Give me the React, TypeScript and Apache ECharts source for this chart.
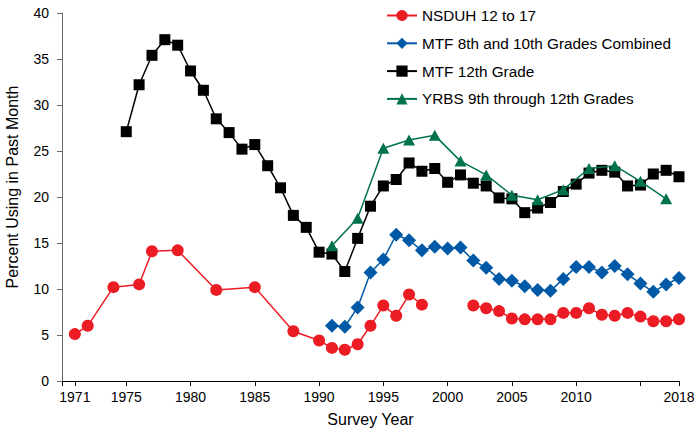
import React, { useEffect, useRef } from "react";
import * as echarts from "echarts";

const nsduhYears = [1971, 1972, 1974, 1976, 1977, 1979, 1982, 1985, 1988, 1990, 1991, 1992, 1993, 1994, 1995, 1996, 1997, 1998, 2000, 2002, 2003, 2004, 2005, 2006, 2007, 2008, 2009, 2010, 2011, 2012, 2013, 2014, 2015, 2016, 2017, 2018];
const nsduhValues = [5.1, 6.0, 10.2, 10.5, 14.1, 14.2, 9.9, 10.2, 5.4, 4.4, 3.6, 3.4, 4.0, 6.0, 8.2, 7.1, 9.4, 8.3, null, 8.2, 7.9, 7.6, 6.8, 6.7, 6.7, 6.7, 7.4, 7.4, 7.9, 7.2, 7.1, 7.4, 7.0, 6.5, 6.5, 6.7];

const mtf810Years = [1991, 1992, 1993, 1994, 1995, 1996, 1997, 1998, 1999, 2000, 2001, 2002, 2003, 2004, 2005, 2006, 2007, 2008, 2009, 2010, 2011, 2012, 2013, 2014, 2015, 2016, 2017, 2018];
const mtf810Values = [6.0, 5.9, 8.0, 11.8, 13.2, 15.9, 15.3, 14.2, 14.6, 14.4, 14.5, 13.1, 12.3, 11.1, 10.9, 10.3, 9.9, 9.8, 11.1, 12.4, 12.4, 11.8, 12.5, 11.6, 10.6, 9.7, 10.5, 11.2];

const mtf12Years = [1975, 1976, 1977, 1978, 1979, 1980, 1981, 1982, 1983, 1984, 1985, 1986, 1987, 1988, 1989, 1990, 1991, 1992, 1993, 1994, 1995, 1996, 1997, 1998, 1999, 2000, 2001, 2002, 2003, 2004, 2005, 2006, 2007, 2008, 2009, 2010, 2011, 2012, 2013, 2014, 2015, 2016, 2017, 2018];
const mtf12Values = [27.1, 32.2, 35.4, 37.1, 36.5, 33.7, 31.6, 28.5, 27.0, 25.2, 25.7, 23.4, 21.0, 18.0, 16.7, 14.0, 13.8, 11.9, 15.5, 19.0, 21.2, 21.9, 23.7, 22.8, 23.1, 21.6, 22.4, 21.5, 21.2, 19.9, 19.8, 18.3, 18.8, 19.4, 20.6, 21.4, 22.6, 22.9, 22.7, 21.2, 21.3, 22.5, 22.9, 22.2];

const yrbsYears = [1991, 1993, 1995, 1997, 1999, 2001, 2003, 2005, 2007, 2009, 2011, 2013, 2015, 2017];
const yrbsValues = [14.7, 17.7, 25.3, 26.2, 26.7, 23.9, 22.4, 20.2, 19.7, 20.8, 23.1, 23.4, 21.7, 19.8];

const seriesNames = ["NSDUH 12 to 17", "MTF 8th and 10th Grades Combined", "MTF 12th Grade", "YRBS 9th through 12th Grades"];
const xTickValues = [1970, 1971, 1975, 1980, 1985, 1990, 1995, 2000, 2005, 2010, 2015, 2018];
const xLabelValues = [1971, 1975, 1980, 1985, 1990, 1995, 2000, 2005, 2010, 2018];

const pairs = (xs: number[], ys: (number | null)[]) =>
  xs.map((x, i) => [x, ys[i] === null ? "-" : ys[i]]);

export default function App() {
  const ref = useRef<HTMLDivElement>(null);
  useEffect(() => {
    document.body.style.margin = "0";
    const chart = echarts.init(ref.current!, undefined, { renderer: "svg" });
    const font = "'Liberation Sans', Arial, sans-serif";
    chart.setOption({
      animation: false,
      textStyle: { fontFamily: font },
      grid: { left: 62, right: 20, top: 13, bottom: 56 },
      legend: {
        orient: "vertical",
        left: 381,
        top: 3,
        itemWidth: 30,
        itemHeight: 14,
        itemGap: 12.8,
        textStyle: { fontSize: 15.3, color: "#000", fontFamily: font },
        data: seriesNames,
      },
      xAxis: {
        type: "value",
        min: 1970,
        max: 2018,
        name: "Survey Year",
        nameLocation: "middle",
        nameGap: 30,
        nameTextStyle: { fontSize: 16, color: "#000", fontFamily: font },
        splitLine: { show: false },
        axisLine: { lineStyle: { color: "#000", width: 1 } },
        axisTick: { show: true, length: 5, customValues: xTickValues, lineStyle: { color: "#000" } },
        axisLabel: {
          customValues: xLabelValues,
          fontSize: 14,
          color: "#000",
          margin: 9,
          fontFamily: font,
          formatter: (v: number) => String(v),
        },
      },
      yAxis: {
        type: "value",
        min: 0,
        max: 40,
        interval: 5,
        splitLine: { show: false },
        axisLine: { show: true, lineStyle: { color: "#666", width: 1 } },
        axisTick: { show: true, length: 5, lineStyle: { color: "#666" } },
        axisLabel: { fontSize: 14, color: "#000", margin: 13, fontFamily: font },
      },
      graphic: [
        {
          type: "text",
          x: 12,
          y: 187,
          rotation: Math.PI / 2,
          style: {
            text: "Percent Using in Past Month",
            fontSize: 16,
            fontFamily: font,
            fill: "#000",
            align: "center",
            verticalAlign: "middle",
          },
        },
      ],
      series: [
        {
          name: seriesNames[0],
          type: "line",
          data: pairs(nsduhYears, nsduhValues),
          symbol: "circle",
          symbolSize: 12,
          color: "#EC1C24",
          lineStyle: { width: 1.5, color: "#EC1C24" },
          itemStyle: { color: "#EC1C24" },
          connectNulls: false,
          z: 4,
        },
        {
          name: seriesNames[1],
          type: "line",
          data: pairs(mtf810Years, mtf810Values),
          symbol: "diamond",
          symbolSize: 14,
          color: "#0059A6",
          lineStyle: { width: 1.5, color: "#0059A6" },
          itemStyle: { color: "#0059A6" },
          z: 3,
        },
        {
          name: seriesNames[2],
          type: "line",
          data: pairs(mtf12Years, mtf12Values),
          symbol: "rect",
          symbolSize: 11,
          color: "#000",
          lineStyle: { width: 1.5, color: "#000" },
          itemStyle: { color: "#000" },
          z: 2,
        },
        {
          name: seriesNames[3],
          type: "line",
          data: pairs(yrbsYears, yrbsValues),
          symbol: "triangle",
          symbolSize: [12, 11],
          color: "#00734A",
          lineStyle: { width: 1.5, color: "#00734A" },
          itemStyle: { color: "#00734A" },
          z: 5,
        },
      ],
    });
    return () => chart.dispose();
  }, []);
  return <div ref={ref} style={{ width: 699, height: 437 }} />;
}
